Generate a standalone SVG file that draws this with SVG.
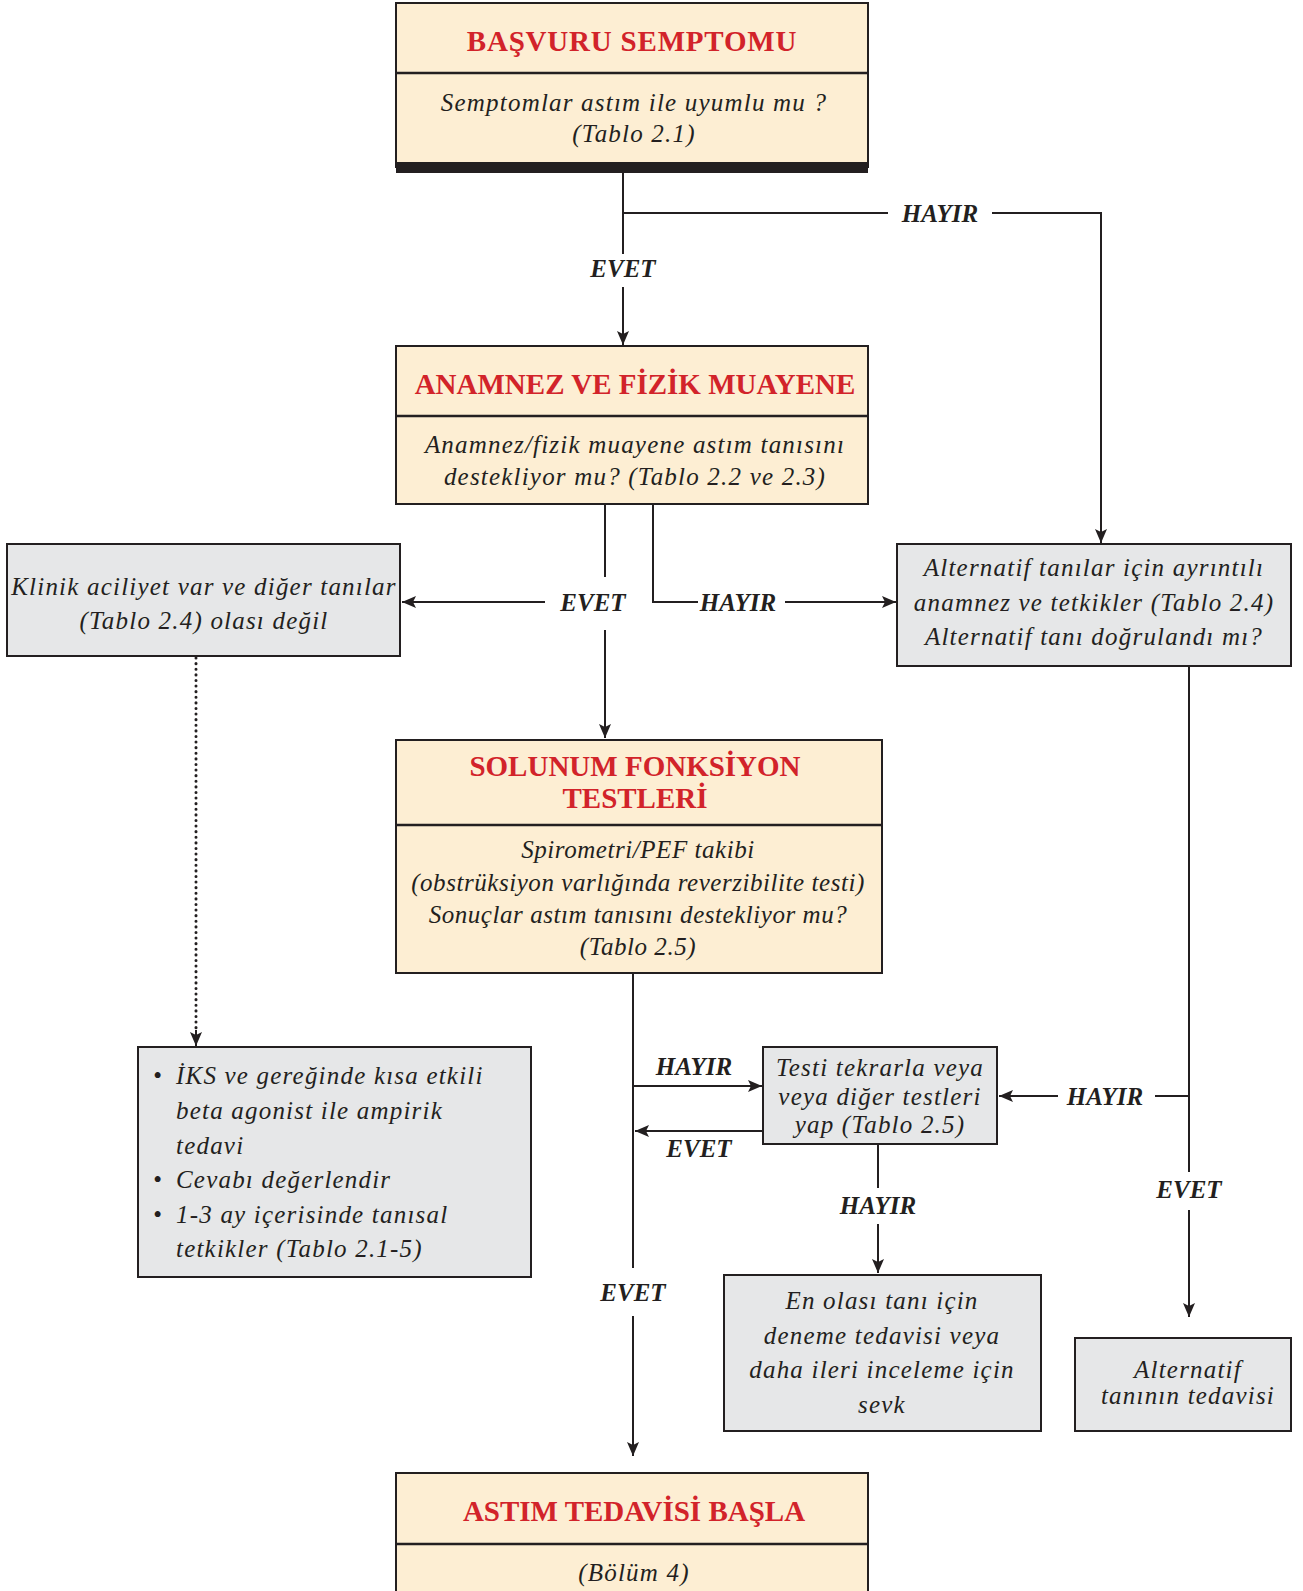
<svg xmlns="http://www.w3.org/2000/svg" width="1303" height="1591" viewBox="0 0 1303 1591">
<style>
.beige{fill:#fdeed3;stroke:#231f20;stroke-width:2}
.gray{fill:#e6e7e8;stroke:#231f20;stroke-width:2}
.div{stroke:#231f20;stroke-width:2.5}
.title{font-family:"Liberation Serif",serif;font-weight:bold;font-size:29px;fill:#d2232a;text-anchor:middle}
.body{font-family:"Liberation Serif",serif;font-style:italic;font-size:25px;fill:#231f20;text-anchor:middle;letter-spacing:1.2px}
.tight{letter-spacing:0.55px}
.left{text-anchor:start}
.lbl{font-family:"Liberation Serif",serif;font-style:italic;font-weight:bold;font-size:25px;fill:#231f20;text-anchor:middle}
.ln{stroke:#231f20;stroke-width:2;fill:none}
.arr{marker-end:url(#ah)}
.dot{stroke:#231f20;stroke-width:3;fill:none;stroke-dasharray:0.1 5.5;stroke-linecap:round}
</style>
<defs>
<marker id="ah" markerUnits="userSpaceOnUse" markerWidth="14" markerHeight="12" refX="14" refY="6" orient="auto">
<path d="M0,0 L14,6 L0,12 L3,6 z" fill="#231f20"/>
</marker>
</defs>

<g id="connectors">
<line class="ln" x1="623" y1="173" x2="623" y2="254"/>
<line class="ln arr" x1="623" y1="287" x2="623" y2="345"/>
<text class="lbl" x="623" y="277">EVET</text>
<line class="ln" x1="623" y1="213" x2="888" y2="213"/>
<text class="lbl" x="940" y="222">HAYIR</text>
<polyline class="ln arr" points="992,213 1101,213 1101,543"/>

<line class="ln" x1="605" y1="504" x2="605" y2="577"/>
<line class="ln arr" x1="545" y1="602" x2="402" y2="602"/>
<text class="lbl" x="593" y="611">EVET</text>
<line class="ln arr" x1="605" y1="630" x2="605" y2="738"/>
<polyline class="ln" points="653,504 653,602 698,602"/>
<text class="lbl" x="738" y="611">HAYIR</text>
<line class="ln arr" x1="785" y1="602" x2="896" y2="602"/>

<line class="dot" x1="196" y1="658" x2="196" y2="1030"/>
<line class="ln arr" x1="196" y1="1030" x2="196" y2="1046"/>

<line class="ln" x1="633" y1="973" x2="633" y2="1268"/>
<text class="lbl" x="633" y="1301">EVET</text>
<line class="ln arr" x1="633" y1="1316" x2="633" y2="1456"/>
<line class="ln arr" x1="633" y1="1086" x2="762" y2="1086"/>
<text class="lbl" x="694" y="1075">HAYIR</text>
<line class="ln arr" x1="763" y1="1131" x2="635" y2="1131"/>
<text class="lbl" x="699" y="1157">EVET</text>

<line class="ln" x1="1189" y1="666" x2="1189" y2="1172"/>
<text class="lbl" x="1189" y="1198">EVET</text>
<line class="ln arr" x1="1189" y1="1210" x2="1189" y2="1317"/>
<line class="ln" x1="1189" y1="1096" x2="1155" y2="1096"/>
<text class="lbl" x="1105" y="1105">HAYIR</text>
<line class="ln arr" x1="1058" y1="1096" x2="999" y2="1096"/>

<line class="ln" x1="878" y1="1144" x2="878" y2="1188"/>
<text class="lbl" x="878" y="1214">HAYIR</text>
<line class="ln arr" x1="878" y1="1224" x2="878" y2="1273"/>
</g>

<g id="basvuru">
<rect class="beige" x="396" y="3" width="472" height="164"/>
<rect x="396" y="162" width="472" height="11" fill="#231f20"/>
<line class="div" x1="396" y1="73" x2="868" y2="73"/>
<text class="title" x="632" y="51" letter-spacing="0.8">BAŞVURU SEMPTOMU</text>
<text class="body" x="634" y="111">Semptomlar astım ile uyumlu mu ?</text>
<text class="body" x="634" y="142">(Tablo 2.1)</text>
</g>

<g id="anamnez">
<rect class="beige" x="396" y="346" width="472" height="158"/>
<line class="div" x1="396" y1="416" x2="868" y2="416"/>
<text class="title" x="635" y="394">ANAMNEZ VE FİZİK MUAYENE</text>
<text class="body" x="635" y="453">Anamnez/fizik muayene astım tanısını</text>
<text class="body" x="635" y="485">destekliyor mu? (Tablo 2.2 ve 2.3)</text>
</g>

<g id="klinik">
<rect class="gray" x="7" y="544" width="393" height="112"/>
<text class="body" x="204" y="595">Klinik aciliyet var ve diğer tanılar</text>
<text class="body" x="204" y="629">(Tablo 2.4) olası değil</text>
</g>

<g id="alternatif">
<rect class="gray" x="897" y="544" width="394" height="122"/>
<text class="body" x="1094" y="576">Alternatif tanılar için ayrıntılı</text>
<text class="body" x="1094" y="611">anamnez ve tetkikler (Tablo 2.4)</text>
<text class="body" x="1094" y="645">Alternatif tanı doğrulandı mı?</text>
</g>

<g id="solunum">
<rect class="beige" x="396" y="740" width="486" height="233"/>
<line class="div" x1="396" y1="825" x2="882" y2="825"/>
<text class="title" x="635" y="776">SOLUNUM FONKSİYON</text>
<text class="title" x="635" y="808">TESTLERİ</text>
<text class="body tight" x="638" y="858">Spirometri/PEF takibi</text>
<text class="body tight" x="638" y="891">(obstrüksiyon varlığında reverzibilite testi)</text>
<text class="body tight" x="638" y="923">Sonuçlar astım tanısını destekliyor mu?</text>
<text class="body tight" x="638" y="955">(Tablo 2.5)</text>
</g>

<g id="iks">
<rect class="gray" x="138" y="1047" width="393" height="230"/>
<text class="body left" x="153" y="1084">•</text>
<text class="body left" x="176" y="1084">İKS ve gereğinde kısa etkili</text>
<text class="body left" x="176" y="1119">beta agonist ile ampirik</text>
<text class="body left" x="176" y="1154">tedavi</text>
<text class="body left" x="153" y="1188">•</text>
<text class="body left" x="176" y="1188">Cevabı değerlendir</text>
<text class="body left" x="153" y="1223">•</text>
<text class="body left" x="176" y="1223">1-3 ay içerisinde tanısal</text>
<text class="body left" x="176" y="1257">tetkikler (Tablo 2.1-5)</text>
</g>

<g id="testi">
<rect class="gray" x="763" y="1047" width="234" height="97"/>
<text class="body" x="880" y="1076">Testi tekrarla veya</text>
<text class="body" x="880" y="1105">veya diğer testleri</text>
<text class="body" x="880" y="1133">yap (Tablo 2.5)</text>
</g>

<g id="enolasi">
<rect class="gray" x="724" y="1275" width="317" height="156"/>
<text class="body" x="882" y="1309">En olası tanı için</text>
<text class="body" x="882" y="1344">deneme tedavisi veya</text>
<text class="body" x="882" y="1378">daha ileri inceleme için</text>
<text class="body" x="882" y="1413">sevk</text>
</g>

<g id="alttedavi">
<rect class="gray" x="1075" y="1338" width="216" height="93"/>
<text class="body" x="1188" y="1378">Alternatif</text>
<text class="body" x="1188" y="1404">tanının tedavisi</text>
</g>

<g id="astim">
<rect class="beige" x="396" y="1473" width="472" height="130"/>
<line class="div" x1="396" y1="1544" x2="868" y2="1544"/>
<text class="title" x="634" y="1521">ASTIM TEDAVİSİ BAŞLA</text>
<text class="body" x="634" y="1581">(Bölüm 4)</text>
</g>
</svg>
